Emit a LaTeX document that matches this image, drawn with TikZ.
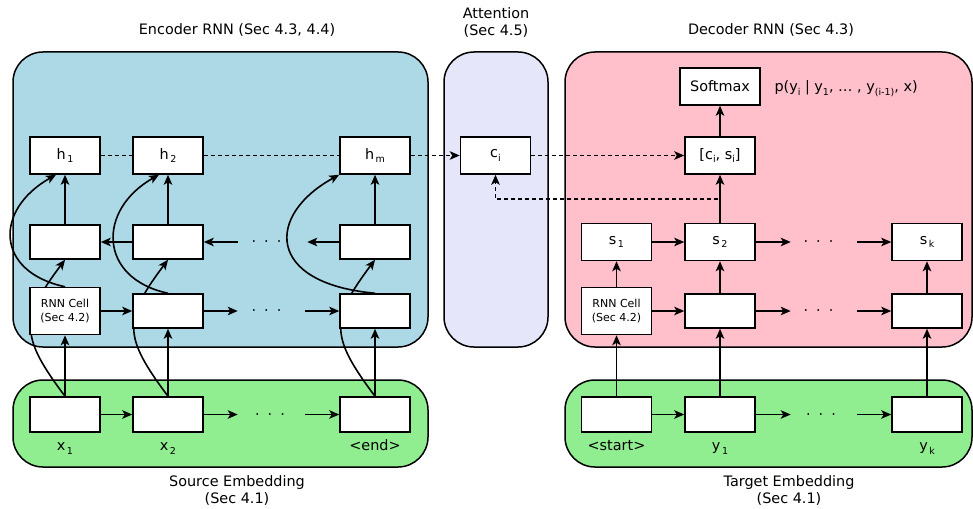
\documentclass[tikz,border=0pt]{standalone}
\usepackage{fontspec}
\setmainfont{DejaVu Sans}
\usetikzlibrary{positioning,arrows.meta}
\definecolor{enc-blue}{RGB}{173,216,230}
\definecolor{att-lavender}{RGB}{230,230,250}
\definecolor{dec-pink}{RGB}{255,192,203}
\definecolor{emb-green}{RGB}{144,238,144}
\newcommand{\lowsub}[1]{\raisebox{-3.5pt}{\fontsize{9.5}{10}\selectfont #1}}
\newcommand{\gapdots}{·\hspace{8pt}·\hspace{8pt}·}
\pgfdeclarelayer{panels}
\pgfdeclarelayer{links}
\pgfsetlayers{panels,links,main}
\tikzset{
    cell-box/.style = {draw, fill=white, line width=1.5pt, minimum width=70pt, minimum height=34pt, inner sep=0pt},
    state-box/.style = {cell-box, minimum height=37pt},
    rnn-cell/.style = {cell-box, minimum height=47pt, align=center, font=\fontsize{11}{13.5}\selectfont},
    panel/.style = {draw, line width=1.5pt, rounded corners=30pt},
    link/.style = {line width=1.6pt, -{Stealth[length=10pt, width=8.5pt, inset=2.5pt]}},
    dash-link/.style = {line width=1.6pt, dash pattern=on 4pt off 3pt},
    dash-arrow/.style = {dash-link, -{Stealth[length=10pt, width=8.5pt, inset=2.5pt]}},
    caption/.style = {align=center},
}

\begin{document}
\begin{tikzpicture}[x=1pt, y=1pt, font=\fontsize{14.4}{17}\selectfont]
\useasboundingbox (0,0) rectangle (973,-508);

\begin{pgfonlayer}{panels}
\draw[panel, fill=enc-blue] (13,-52) rectangle (428,-347);
\draw[panel, fill=att-lavender] (444,-52) rectangle (548,-347);
\draw[panel, fill=dec-pink] (565,-52) rectangle (972,-347);
\draw[panel, fill=emb-green] (13,-380) rectangle (428,-467);
\draw[panel, fill=emb-green] (565,-380) rectangle (972,-467);
\end{pgfonlayer}

% titles
\node[anchor=base] (enc-title) at (237,-35) {Encoder RNN (Sec 4.3, 4.4)};
\node[caption] (att-title) at (496,-22) {Attention\\(Sec 4.5)};
\node[anchor=base] (dec-title) at (771,-35) {Decoder RNN (Sec 4.3)};
\node[caption] (src-title) at (237,-490) {Source Embedding\\(Sec 4.1)};
\node[caption] (tgt-title) at (789,-490) {Target Embedding\\(Sec 4.1)};

% encoder
\node[state-box] (h1) at (65,-155.5) {h\hspace{1.5pt}\lowsub{1}};
\node[state-box] (h2) at (168,-155.5) {h\hspace{1.5pt}\lowsub{2}};
\node[state-box] (hm) at (375,-155.5) {h\hspace{1.5pt}\lowsub{m}};
\node[cell-box] (b1) at (65,-242) {};
\node[cell-box] (b2) at (168,-242) {};
\node[cell-box] (bm) at (375,-242) {};
\node[rnn-cell] (f1) at (65,-311) {RNN Cell\\(Sec 4.2)};
\node[cell-box] (f2) at (168,-311) {};
\node[cell-box] (fm) at (375,-311) {};
\node[cell-box, minimum height=35pt] (x1) at (65,-414.5) {};
\node[cell-box, minimum height=35pt] (x2) at (168,-414.5) {};
\node[cell-box, minimum height=35pt] (xend) at (375,-414.5) {};
\node[anchor=base] (x1-lbl) at ([yshift=-18pt]x1.south) {x\hspace{1.5pt}\lowsub{1}};
\node[anchor=base] (x2-lbl) at ([yshift=-18pt]x2.south) {x\hspace{1.5pt}\lowsub{2}};
\node[anchor=base] (xend-lbl) at ([yshift=-18pt]xend.south) {<end>};
\node[anchor=base] (b-dots) at (266.5,-246.5) {\gapdots};
\node[anchor=base] (f-dots) at (266.5,-315.5) {\gapdots};
\node[anchor=base] (x-dots) at (270,-419) {\gapdots};
\coordinate[right=34pt of b2] (b2-gap);
\coordinate[left=32pt of bm] (bm-gap);
\coordinate[right=34pt of f2] (f2-gap);
\coordinate[left=34pt of fm] (fm-gap);
\coordinate[right=34pt of x2] (x2-gap);
\coordinate[left=34pt of xend] (xend-gap);

% attention
\node[state-box] (ci) at (495.5,-155.5) {c\lowsub{i}};

% decoder
\node[state-box, minimum width=80pt] (soft) at (720,-86.5) {Softmax};
\node[anchor=base west] (prob) at (771,-92) {p(y\lowsub{i} | y\lowsub{1}, … , y\lowsub{(i-1)}, x)};
\node[state-box] (cs) at (720,-155.5) {[c\lowsub{i}, s\lowsub{i}]};
\node[state-box] (s1) at (616.5,-242) {s\hspace{1.5pt}\lowsub{1}};
\node[state-box] (s2) at (720,-242) {s\hspace{1.5pt}\lowsub{2}};
\node[state-box] (sk) at (927,-242) {s\hspace{1.5pt}\lowsub{k}};
\node[rnn-cell] (g1) at (616.5,-311) {RNN Cell\\(Sec 4.2)};
\node[cell-box] (g2) at (720,-311) {};
\node[cell-box] (gk) at (927,-311) {};
\node[cell-box, minimum height=35pt] (ystart) at (616.5,-414.5) {};
\node[cell-box, minimum height=35pt] (y1) at (720,-414.5) {};
\node[cell-box, minimum height=35pt] (yk) at (927,-414.5) {};
\node[anchor=base] (ystart-lbl) at ([yshift=-18pt]ystart.south) {<start>};
\node[anchor=base] (y1-lbl) at ([yshift=-18pt]y1.south) {y\hspace{1.5pt}\lowsub{1}};
\node[anchor=base] (yk-lbl) at ([yshift=-18pt]yk.south) {y\hspace{1.5pt}\lowsub{k}};
\node[anchor=base] (s-dots) at (818.5,-246.5) {\gapdots};
\node[anchor=base] (g-dots) at (818.5,-315.5) {\gapdots};
\node[anchor=base] (y-dots) at (821,-419) {\gapdots};
\coordinate[right=35pt of s2] (s2-gap);
\coordinate[left=34pt of sk] (sk-gap);
\coordinate[right=35pt of g2] (g2-gap);
\coordinate[left=34pt of gk] (gk-gap);
\coordinate[right=35pt of y1] (y1-gap);
\coordinate[left=34pt of yk] (yk-gap);
\coordinate (s2-tap) at (718,-199);

% encoder links
\draw[link] (x1) -- (f1);
\draw[link] (x2) -- (f2);
\draw[link] (xend) -- (fm);
\draw[link] (b1) -- (h1);
\draw[link] (b2) -- (h2);
\draw[link] (bm) -- (hm);
\draw[link] (x1) -- (x2);
\draw[link] (x2) -- (x2-gap);
\draw[link] (xend-gap) -- (xend);
\draw[link] (f1) -- (f2);
\draw[link] (f2) -- (f2-gap);
\draw[link] (fm-gap) -- (fm);
\draw[link] (b2) -- (b1);
\draw[link] (b2-gap) -- (b2);
\draw[link] (bm) -- (bm-gap);
\begin{pgfonlayer}{links}
\draw[link] (x1.north) .. controls +(-45,60) and +(-45,-60) .. (b1.south);
\draw[link] (x2.north) .. controls +(-45,60) and +(-45,-60) .. (b2.south);
\draw[link] (xend.north) .. controls +(-45,60) and +(-45,-60) .. (bm.south);
\draw[link] (f1.north) .. controls +(-70,15) and +(-62,-35) .. ([xshift=-9pt]h1.south);
\draw[link] (f2.north) .. controls +(-70,15) and +(-62,-35) .. ([xshift=-9pt]h2.south);
\draw[link] (fm.north) .. controls +(-110,10) and +(-73,-40) .. (hm.south west);
\end{pgfonlayer}

% attention links
\draw[dash-link] (h1) -- (h2);
\draw[dash-link] (h2) -- (hm);
\draw[dash-arrow] (hm) -- (ci);
\draw[dash-arrow] (ci) -- (cs);
\draw[dash-arrow] (s2-tap) -| (ci.south);

% decoder links
\draw[link] (ystart) -- (g1);
\draw[link] (y1) -- (g2);
\draw[link] (yk) -- (gk);
\draw[link] (g1) -- (s1);
\draw[link] (g2) -- (s2);
\draw[link] (gk) -- (sk);
\draw[link] (ystart) -- (y1);
\draw[link] (y1) -- (y1-gap);
\draw[link] (yk-gap) -- (yk);
\draw[link] (g1) -- (g2);
\draw[link] (g2) -- (g2-gap);
\draw[link] (gk-gap) -- (gk);
\draw[link] (s1) -- (s2);
\draw[link] (s2) -- (s2-gap);
\draw[link] (sk-gap) -- (sk);
\draw[link] (s2) -- (cs);
\draw[link] (cs) -- (soft);
\end{tikzpicture}
\end{document}
